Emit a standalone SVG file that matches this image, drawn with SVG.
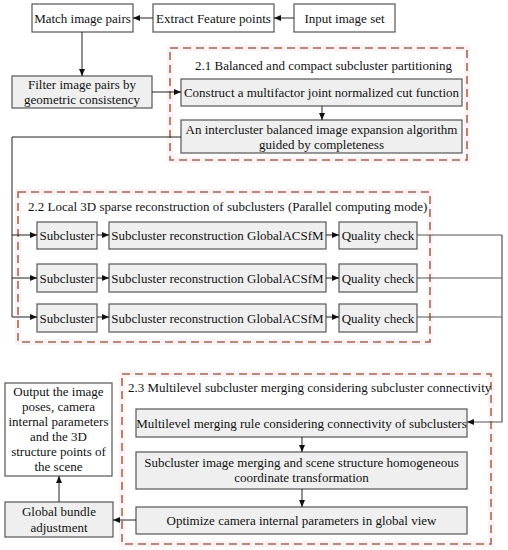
<svg xmlns="http://www.w3.org/2000/svg" width="508" height="550" viewBox="0 0 508 550" font-family="'Liberation Serif', 'DejaVu Serif', serif" font-size="13">
<style>
text{font-family:'Liberation Serif','DejaVu Serif',serif;font-size:13px;fill:#111;}
.t{text-anchor:middle;}
.w{fill:#fff;stroke:#555;stroke-width:1.2;}
.g{fill:#efefef;stroke:#555;stroke-width:1.2;}
.halo{fill:none;stroke:#fdf3f6;stroke-width:6;}
.dash{fill:none;stroke:#a36a4c;stroke-width:1.6;stroke-dasharray:8 5;}
.c{fill:none;stroke:#222;stroke-width:1;}
.c2{fill:none;stroke:#555;stroke-width:1.2;}
</style>
<defs>
<marker id="ah" markerWidth="8" markerHeight="8" refX="7" refY="4" orient="auto" markerUnits="userSpaceOnUse">
<path d="M0,1 L7,4 L0,7 z" fill="#111"/>
</marker>
</defs>
<rect width="508" height="550" fill="#fff"/>
<g id="groups">
<rect class="halo" x="170" y="48" width="297" height="112"/>
<rect class="dash" x="170" y="48" width="297" height="112"/>
<text x="195" y="70">2.1 Balanced and compact subcluster partitioning</text>
<rect class="halo" x="18" y="192" width="412" height="150"/>
<rect class="dash" x="18" y="192" width="412" height="150"/>
<text x="28" y="211">2.2 Local 3D sparse reconstruction of subclusters (Parallel computing mode)</text>
<rect class="halo" x="122" y="374" width="369" height="170"/>
<rect class="dash" x="122" y="374" width="369" height="170"/>
<text x="128" y="392">2.3 Multilevel subcluster merging considering subcluster connectivity</text>
</g>
<g id="n-match"><rect class="w" x="32" y="4" width="101" height="28"/><text class="t" x="82.5" y="22.5">Match image pairs</text></g>
<g id="n-extract"><rect class="w" x="153" y="4" width="121" height="28"/><text class="t" x="213.5" y="22.5">Extract Feature points</text></g>
<g id="n-input"><rect class="w" x="294" y="4" width="101" height="28"/><text class="t" x="344.5" y="22.5">Input image set</text></g>
<g id="n-filter"><rect class="g" x="12" y="76" width="140" height="32"/><text class="t" x="82" y="89">Filter image pairs by</text><text class="t" x="82" y="104">geometric consistency</text></g>
<g id="n-construct"><rect class="g" x="181" y="79" width="281" height="27"/><text class="t" x="321.5" y="97">Construct a multifactor joint normalized cut function</text></g>
<g id="n-intercluster"><rect class="g" x="181" y="120" width="281" height="33"/><text class="t" x="321.5" y="134">An intercluster balanced image expansion algorithm</text><text class="t" x="321.5" y="149">guided by completeness</text></g>
<g id="n-sub1"><rect class="g" x="37" y="222" width="60" height="27"/><text class="t" x="67" y="240">Subcluster</text></g>
<g id="n-sub2"><rect class="g" x="37" y="264" width="60" height="28"/><text class="t" x="67" y="282.5">Subcluster</text></g>
<g id="n-sub3"><rect class="g" x="37" y="304" width="60" height="28"/><text class="t" x="67" y="322.5">Subcluster</text></g>
<g id="n-rec1"><rect class="g" x="109" y="222" width="217" height="27"/><text class="t" x="217.5" y="240">Subcluster reconstruction GlobalACSfM</text></g>
<g id="n-rec2"><rect class="g" x="109" y="264" width="217" height="28"/><text class="t" x="217.5" y="282.5">Subcluster reconstruction GlobalACSfM</text></g>
<g id="n-rec3"><rect class="g" x="109" y="304" width="217" height="28"/><text class="t" x="217.5" y="322.5">Subcluster reconstruction GlobalACSfM</text></g>
<g id="n-qc1"><rect class="g" x="339" y="222" width="78" height="27"/><text class="t" x="378" y="240">Quality check</text></g>
<g id="n-qc2"><rect class="g" x="339" y="264" width="78" height="28"/><text class="t" x="378" y="282.5">Quality check</text></g>
<g id="n-qc3"><rect class="g" x="339" y="304" width="78" height="28"/><text class="t" x="378" y="322.5">Quality check</text></g>
<g id="n-multilevel"><rect class="g" x="136" y="409" width="331" height="28"/><text class="t" x="301.5" y="427.5">Multilevel merging rule considering connectivity of subclusters</text></g>
<g id="n-merging"><rect class="g" x="136" y="452" width="331" height="37"/><text class="t" x="301.5" y="467">Subcluster image merging and scene structure homogeneous</text><text class="t" x="301.5" y="482">coordinate transformation</text></g>
<g id="n-optimize"><rect class="g" x="136" y="507" width="331" height="27"/><text class="t" x="301.5" y="525">Optimize camera internal parameters in global view</text></g>
<g id="n-bundle"><rect class="g" x="5" y="502" width="108" height="35"/><text class="t" x="59" y="516">Global bundle</text><text class="t" x="59" y="532">adjustment</text></g>
<g id="n-output"><rect class="w" x="5" y="383" width="107" height="93"/>
<text class="t" x="58.5" y="396">Output the image</text>
<text class="t" x="58.5" y="411">poses, camera</text>
<text class="t" x="58.5" y="426">internal parameters</text>
<text class="t" x="58.5" y="441">and the 3D</text>
<text class="t" x="58.5" y="456">structure points of</text>
<text class="t" x="58.5" y="471">the scene</text>
</g>
<g id="connectors">
<line class="c" x1="294" y1="18" x2="274" y2="18" marker-end="url(#ah)"/>
<line class="c" x1="153" y1="18" x2="133" y2="18" marker-end="url(#ah)"/>
<line class="c" x1="82" y1="32" x2="82" y2="76" marker-end="url(#ah)"/>
<line class="c" x1="152" y1="92" x2="181" y2="92" marker-end="url(#ah)"/>
<line class="c" x1="322" y1="106" x2="322" y2="120" marker-end="url(#ah)"/>
<polyline class="c" points="181,137 12,137 12,317"/>
<line class="c" x1="12" y1="235" x2="37" y2="235" marker-end="url(#ah)"/>
<line class="c" x1="12" y1="278" x2="37" y2="278" marker-end="url(#ah)"/>
<line class="c" x1="12" y1="317" x2="37" y2="317" marker-end="url(#ah)"/>
<line class="c" x1="97" y1="235" x2="109" y2="235" marker-end="url(#ah)"/>
<line class="c" x1="97" y1="278" x2="109" y2="278" marker-end="url(#ah)"/>
<line class="c" x1="97" y1="317" x2="109" y2="317" marker-end="url(#ah)"/>
<line class="c" x1="326" y1="235" x2="339" y2="235" marker-end="url(#ah)"/>
<line class="c" x1="326" y1="278" x2="339" y2="278" marker-end="url(#ah)"/>
<line class="c" x1="326" y1="317" x2="339" y2="317" marker-end="url(#ah)"/>
<polyline class="c2" points="417,235 502,235"/>
<polyline class="c2" points="417,278 502,278"/>
<polyline class="c2" points="417,317 502,317"/>
<polyline class="c2" points="502,235 502,422 467,422" marker-end="url(#ah)"/>
<line class="c" x1="302" y1="437" x2="302" y2="452" marker-end="url(#ah)"/>
<line class="c" x1="302" y1="489" x2="302" y2="507" marker-end="url(#ah)"/>
<line class="c" x1="136" y1="520" x2="113" y2="520" marker-end="url(#ah)"/>
<line class="c" x1="59" y1="502" x2="59" y2="476" marker-end="url(#ah)"/>
</g>
</svg>
